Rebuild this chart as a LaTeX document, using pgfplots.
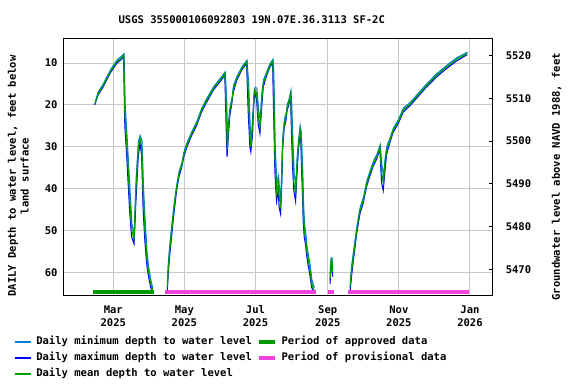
\documentclass[border=0pt]{standalone}
\usepackage{pgfplots}
\pgfplotsset{compat=1.18}
\usepackage{pgfplotstable}
\usepackage{fontspec}
\setmainfont{DejaVu Sans Mono}
\definecolor{minc}{RGB}{0,128,210}
\definecolor{maxc}{RGB}{0,0,255}
\definecolor{meanc}{RGB}{0,160,0}
\definecolor{apprc}{RGB}{0,153,0}
\definecolor{provc}{RGB}{238,68,221}
\definecolor{gridc}{RGB}{200,200,200}

\pgfplotstableread{
day depth
43.3 19.6
46.1 17.2
50.4 15.3
56.2 12.1
61.9 9.7
66.5 8.6
68.0 8.1
69.0 22.4
70.5 29.2
71.9 36.4
73.3 43.5
74.8 50.0
76.8 52.0
78.5 39.6
80.5 30.0
81.9 28.0
83.4 30.0
84.7 42.0
86.2 50.0
87.7 56.3
89.0 59.5
91.1 62.7
92.8 64.3
nan nan
245.0 61.5
245.6 57.5
246.5 57.0
247.2 60.0
nan nan
105.3 63.5
106.2 58.7
107.6 54.0
109.1 50.0
110.5 46.0
111.9 42.8
113.4 39.6
115.4 36.4
117.7 34.4
119.7 31.6
122.0 29.6
126.3 26.8
130.6 24.4
134.8 21.2
139.1 18.9
144.8 16.1
150.5 14.1
154.8 12.5
156.1 22.0
156.8 30.5
157.7 26.0
159.1 21.2
160.6 19.3
162.0 16.1
164.9 13.7
169.2 11.3
173.5 9.7
175.0 18.0
176.3 28.0
177.1 30.0
178.6 24.4
179.7 18.0
180.6 16.5
182.0 17.2
183.4 22.8
184.9 25.2
186.3 18.9
187.7 14.9
190.6 12.5
193.4 10.5
195.8 9.5
196.5 15.0
197.1 23.6
197.7 32.4
198.6 38.0
199.2 41.0
200.6 38.8
201.4 42.0
202.6 44.0
203.5 37.2
204.3 29.2
205.7 24.4
207.2 22.8
208.3 20.5
209.7 19.3
211.2 17.2
212.0 23.6
212.9 31.6
214.0 38.8
215.5 41.0
216.4 35.6
217.7 30.0
219.2 26.0
220.0 27.6
220.6 32.4
221.5 39.6
222.0 45.2
222.9 50.0
224.1 52.3
224.9 54.7
226.3 57.1
227.8 59.5
229.2 62.7
231.2 64.3
nan nan
262.1 63.5
263.5 59.5
264.9 56.3
266.4 53.1
267.8 50.0
269.2 47.6
270.7 45.2
273.5 42.8
276.4 38.8
279.2 36.4
282.1 34.0
285.0 32.4
287.8 30.0
289.3 36.5
290.7 38.5
292.1 34.0
293.6 30.8
296.4 28.4
299.2 26.0
303.5 24.0
307.8 21.2
313.6 19.8
319.3 18.0
327.9 15.3
336.5 12.9
345.1 10.9
353.6 9.1
362.7 7.7
}\meantab

\pgfplotstableread{
day depth
43.0 20.0
46.0 17.6
50.3 15.7
56.1 12.5
61.8 10.1
66.4 9.0
67.8 8.4
68.9 25.0
70.4 31.5
71.8 39.0
73.2 46.0
74.7 51.5
76.8 53.2
78.4 43.0
80.4 32.5
81.8 29.0
83.3 32.0
84.6 45.0
86.1 52.5
87.6 57.8
88.9 60.5
91.0 63.5
92.7 65.0
nan nan
245.0 62.8
245.5 59.0
246.4 58.0
247.1 61.0
nan nan
105.2 65.0
106.1 60.5
107.5 55.5
109.0 51.5
110.4 47.5
111.8 44.0
113.3 40.5
115.3 37.2
117.6 35.0
119.6 32.3
121.9 30.2
126.2 27.3
130.5 24.9
134.7 21.7
139.0 19.4
144.7 16.5
150.4 14.5
154.7 12.9
155.9 26.0
156.6 32.4
157.6 28.0
159.0 22.5
160.5 20.0
161.9 17.0
164.8 14.2
169.1 11.7
173.4 10.1
174.8 22.0
176.2 30.0
177.0 31.2
178.5 27.0
179.6 19.5
180.5 17.2
181.9 18.5
183.3 24.5
184.8 26.8
186.2 21.0
187.6 15.8
190.5 13.0
193.3 11.0
195.7 9.9
196.4 20.0
197.0 27.0
197.6 35.5
198.5 40.5
199.1 43.0
200.5 40.5
201.3 44.5
202.5 46.0
203.4 40.0
204.2 31.0
205.6 25.5
207.1 23.8
208.2 21.2
209.6 20.0
211.1 17.8
211.9 27.0
212.8 34.5
213.9 40.5
215.4 43.0
216.3 38.0
217.6 31.5
219.1 27.0
219.9 29.0
220.5 35.0
221.4 42.0
221.9 47.5
222.8 51.5
224.0 53.5
224.8 55.7
226.2 58.3
227.7 60.7
229.1 63.5
231.1 65.0
nan nan
262.0 65.0
263.4 61.0
264.8 57.5
266.3 54.2
267.7 51.0
269.1 48.5
270.6 46.0
273.4 43.5
276.3 39.5
279.1 37.0
282.0 34.6
284.9 33.0
287.7 30.6
289.2 38.5
290.6 40.4
292.0 36.0
293.5 31.8
296.3 29.0
299.1 26.5
303.4 24.5
307.7 21.7
313.5 20.2
319.2 18.4
327.8 15.7
336.4 13.3
345.0 11.3
353.5 9.5
362.6 8.0
}\maxtab

\pgfplotstableread{
day depth
43.6 19.2
46.3 16.8
50.6 14.9
56.4 11.7
62.1 9.3
66.7 8.2
68.2 7.8
69.2 20.0
70.7 27.0
72.1 34.0
73.5 41.0
75.0 48.5
77.0 51.0
78.7 37.0
80.7 28.5
82.1 27.3
83.6 28.5
84.9 39.5
86.4 48.0
87.9 55.0
89.2 58.5
91.3 62.0
93.0 63.8
nan nan
245.1 60.5
245.7 56.7
246.6 56.5
247.3 59.0
nan nan
105.5 62.0
106.4 57.0
107.8 52.5
109.3 48.5
110.7 44.8
112.1 41.8
113.6 38.8
115.6 35.8
117.9 33.8
119.9 31.0
122.2 29.1
126.5 26.3
130.8 23.9
135.0 20.7
139.3 18.4
145.0 15.7
150.7 13.7
155.0 12.1
156.3 19.0
157.0 28.0
157.9 24.0
159.3 20.2
160.8 18.6
162.2 15.3
165.1 13.2
169.4 10.9
173.7 9.3
175.2 15.0
176.5 25.5
177.3 28.5
178.8 22.0
179.9 16.5
180.8 15.8
182.2 16.0
183.6 21.0
185.1 23.8
186.5 17.0
187.9 14.0
190.8 12.0
193.6 10.1
196.0 9.1
196.7 12.0
197.3 20.0
197.9 29.5
198.8 35.5
199.4 39.0
200.8 37.0
201.6 40.0
202.8 42.0
203.7 34.5
204.5 27.5
205.9 23.4
207.4 21.8
208.5 19.7
209.9 18.5
211.4 16.6
212.2 20.5
213.1 28.5
214.2 36.5
215.7 39.0
216.6 33.0
217.9 28.5
219.4 25.0
220.2 26.3
220.8 30.0
221.7 37.0
222.2 43.0
223.1 48.5
224.3 51.0
225.1 53.5
226.5 56.0
228.0 58.5
229.4 61.8
231.4 63.7
nan nan
262.3 62.0
263.7 58.0
265.1 55.0
266.6 52.0
268.0 49.0
269.4 46.7
270.9 44.4
273.7 42.0
276.6 38.1
279.4 35.7
282.3 33.4
285.2 31.8
288.0 29.5
289.5 34.5
290.9 37.0
292.3 32.5
293.8 29.8
296.6 27.8
299.4 25.5
303.7 23.5
308.0 20.7
313.8 19.4
319.5 17.6
328.1 14.9
336.7 12.5
345.3 10.5
353.8 8.7
362.9 7.4
}\mintab

\pgfplotstableread{
day depth
41.6 64.7
93.7 64.7
}\apprtab

\pgfplotstableread{
day depth
103.6 64.7
232.7 64.7
nan nan
243.0 64.7
248.1 64.7
nan nan
260.4 64.7
364.0 64.7
}\provtab

\begin{document}
\bfseries\fontsize{7.9pt}{9.5pt}\selectfont
\begin{tikzpicture}
\useasboundingbox (0pt,0pt) rectangle (432pt,288pt);
\begin{axis}[
  at={(48pt,66pt)}, anchor=south west,
  scale only axis, width=321.5pt, height=192.75pt,
  xmin=16.7, xmax=384.5, ymin=4.25, ymax=65.65, y dir=reverse,
  xtick={59,120,181,243,304,365},
  xticklabels={{Mar\\2025},{May\\2025},{Jul\\2025},{Sep\\2025},{Nov\\2025},{Jan\\2026}},
  xticklabel style={align=center, yshift=-4.5pt},
  ytick={10,20,30,40,50,60},
  yticklabel style={xshift=-2pt},
  major tick length=0pt,
  grid=major, grid style={gridc, line width=0.75pt},
  axis line style={black, line width=0.75pt},
  /pgf/number format/assume math mode=true,
  unbounded coords=jump,
  title={USGS 355000106092803 19N.07E.36.3113 SF-2C},
  title style={at={(0.438,1.043)}, anchor=center},
  ylabel={DAILY Depth to water level, feet below\\land surface},
  ylabel style={at={(-0.1066,0.467)}, anchor=center, align=center},
  legend columns=2,
  legend cell align=left,
  legend image code/.code={\draw[#1] (0pt,0pt) -- (12pt,0pt);},
  legend style={at={(-0.115,-0.158)}, anchor=north west, draw=none, fill=none,
    inner sep=0pt, outer sep=0pt, row sep=4pt,
    nodes={inner sep=0pt, text height=6pt, text depth=2pt},
    /tikz/every odd column/.append style={column sep=3.2pt},
    /tikz/every even column/.append style={column sep=3.5pt}},
]
\addlegendimage{minc, line width=1pt}
\addlegendentry{Daily minimum depth to water level}
\addlegendimage{apprc, line width=3.5pt}
\addlegendentry{Period of approved data}
\addlegendimage{maxc, line width=1pt}
\addlegendentry{Daily maximum depth to water level}
\addlegendimage{provc, line width=3.5pt}
\addlegendentry{Period of provisional data}
\addlegendimage{meanc, line width=1pt}
\addlegendentry{Daily mean depth to water level}

\addplot[minc, line width=0.8pt, forget plot] table[x=day, y=depth] {\mintab};
\addplot[maxc, line width=0.8pt, forget plot] table[x=day, y=depth] {\maxtab};
\addplot[meanc, line width=0.9pt, forget plot] table[x=day, y=depth] {\meantab};
\addplot[apprc, line width=3pt, forget plot] table[x=day, y=depth] {\apprtab};
\addplot[provc, line width=3pt, forget plot] table[x=day, y=depth] {\provtab};
\end{axis}
\begin{axis}[
  at={(48pt,66pt)}, anchor=south west,
  scale only axis, width=321.5pt, height=192.75pt,
  xmin=16.7, xmax=384.5, ymin=5463.86, ymax=5523.83,
  axis x line=none, axis y line*=right,
  ytick={5470,5480,5490,5500,5510,5520},
  tick align=inside, major tick length=2.5pt,
  tick style={black, line width=0.75pt},
  yticklabel style={xshift=7pt, /pgf/number format/1000 sep={}},
  /pgf/number format/assume math mode=true,
  axis line style={black, line width=0.75pt},
  ylabel={Groundwater level above NAVD 1988, feet},
  ylabel style={at={(1.149,0.464)}, anchor=center, rotate=0},
]
\end{axis}
\end{tikzpicture}
\end{document}
